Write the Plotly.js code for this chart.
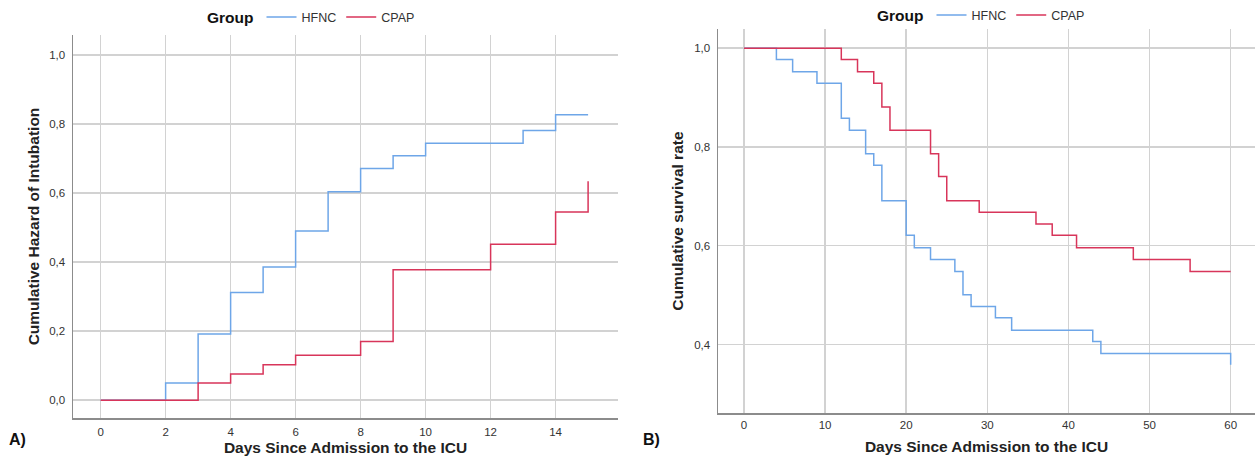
<!DOCTYPE html>
<html>
<head>
<meta charset="utf-8">
<script src="https://cdn.plot.ly/plotly-3.0.1.min.js"></script>
<style>
  html, body { margin: 0; padding: 0; background: #ffffff; }
  #chart { width: 1255px; height: 456px; }
</style>
</head>
<body>
<div id="chart"></div>
<script>
// ---- Panel A: cumulative hazard of intubation (days 0-15) ----
const hazHfncDays = [0, 2, 3, 4, 5, 6, 7, 8, 9, 10, 13, 14, 15];
const hazHfncVals = [0, 0.05, 0.192, 0.312, 0.386, 0.49, 0.604, 0.671, 0.708, 0.744, 0.781, 0.827, 0.827];
const hazCpapDays = [0, 3, 4, 5, 6, 8, 9, 12, 14, 15];
const hazCpapVals = [0, 0.05, 0.076, 0.103, 0.13, 0.17, 0.378, 0.452, 0.545, 0.634];

// ---- Panel B: cumulative survival (days 0-60) ----
const survHfncDays = [0, 4, 6, 9, 12, 13, 15, 16, 17, 20, 21, 23, 26, 27, 28, 31, 33, 43, 44, 60];
const survHfncVals = [1, 0.977, 0.952, 0.929, 0.858, 0.834, 0.786, 0.763, 0.691, 0.621, 0.596, 0.572, 0.548, 0.501, 0.477, 0.454, 0.429, 0.406, 0.382, 0.359];
const survCpapDays = [0, 12, 14, 16, 17, 18, 23, 24, 25, 29, 36, 38, 41, 48, 55, 60];
const survCpapVals = [1, 0.977, 0.952, 0.929, 0.881, 0.834, 0.786, 0.740, 0.691, 0.668, 0.644, 0.621, 0.596, 0.572, 0.548, 0.548];

// ---- tick labels ----
const hazXTicks = [0, 2, 4, 6, 8, 10, 12, 14];
const hazYTicks = [0, 0.2, 0.4, 0.6, 0.8, 1.0];
const hazYTickText = ['0,0', '0,2', '0,4', '0,6', '0,8', '1,0'];
const survXTicks = [0, 10, 20, 30, 40, 50, 60];
const survYTicks = [0.4, 0.6, 0.8, 1.0];
const survYTickText = ['0,4', '0,6', '0,8', '1,0'];

const groupNames = ['HFNC', 'CPAP'];

// ---- styling ----
const W = 1255, H = 456;
const BLUE = '#6ea6e8';
const RED = '#d8355a';
const GRID = '#d2d2d2';
const AXIS = '#8c8c8c';
const FONT = 'Liberation Sans, Arial, sans-serif';

function px2domX(a, b) { return [a / W, b / W]; }
function px2domY(top, bottom) { return [1 - bottom / H, 1 - top / H]; }

const tickFont = { family: FONT, size: 11.5, color: '#333333' };
const titleFont = { family: FONT, size: 15.5, color: '#222222', weight: 'bold' };

function baseAxis(extra) {
  return Object.assign({
    showgrid: true, gridcolor: GRID, gridwidth: 1.5,
    zeroline: false, showline: true, linecolor: AXIS, linewidth: 1.5,
    mirror: false, ticks: '', tickfont: tickFont, fixedrange: true,
    automargin: false
  }, extra);
}

const traces = [
  { x: hazHfncDays, y: hazHfncVals, name: groupNames[0], type: 'scatter', mode: 'lines',
    line: { shape: 'hv', color: BLUE, width: 1.5 }, xaxis: 'x', yaxis: 'y', legend: 'legend' },
  { x: hazCpapDays, y: hazCpapVals, name: groupNames[1], type: 'scatter', mode: 'lines',
    line: { shape: 'hv', color: RED, width: 1.5 }, xaxis: 'x', yaxis: 'y', legend: 'legend' },
  { x: survHfncDays, y: survHfncVals, name: groupNames[0], type: 'scatter', mode: 'lines',
    line: { shape: 'hv', color: BLUE, width: 1.5 }, xaxis: 'x2', yaxis: 'y2', legend: 'legend2' },
  { x: survCpapDays, y: survCpapVals, name: groupNames[1], type: 'scatter', mode: 'lines',
    line: { shape: 'hv', color: RED, width: 1.5 }, xaxis: 'x2', yaxis: 'y2', legend: 'legend2' }
];

const legendBase = {
  orientation: 'h', xref: 'paper', yref: 'paper', xanchor: 'left', yanchor: 'middle',
  bgcolor: 'rgba(0,0,0,0)', borderwidth: 0, itemwidth: 30,
  font: { family: FONT, size: 12.5, color: '#333333' },
  title: { text: 'Group', side: 'left', font: { family: FONT, size: 15.5, color: '#111111', weight: 'bold' } },
  itemclick: false, itemdoubleclick: false
};

const layout = {
  width: W, height: H,
  margin: { l: 0, r: 0, t: 0, b: 0, pad: 0 },
  paper_bgcolor: '#ffffff', plot_bgcolor: '#ffffff',
  showlegend: true,
  font: { family: FONT },
  xaxis: baseAxis({
    domain: px2domX(73, 618), range: [-0.85, 15.92], anchor: 'y',
    tickvals: hazXTicks, ticktext: hazXTicks.map(String), ticklabelstandoff: 3,
    title: { text: 'Days Since Admission to the ICU', font: titleFont, standoff: 5 }
  }),
  yaxis: baseAxis({
    domain: px2domY(33, 418), range: [-0.052, 1.058], anchor: 'x',
    tickvals: hazYTicks, ticktext: hazYTickText, ticklabelstandoff: 4,
    title: { text: 'Cumulative Hazard of Intubation', font: titleFont, standoff: 6 }
  }),
  xaxis2: baseAxis({
    domain: px2domX(718, 1255), range: [-3.2, 63.0], anchor: 'y2',
    tickvals: survXTicks, ticktext: survXTicks.map(String), ticklabelstandoff: 1,
    title: { text: 'Days Since Admission to the ICU', font: titleFont, standoff: 10 }
  }),
  yaxis2: baseAxis({
    domain: px2domY(27, 413), range: [0.261, 1.039], anchor: 'x2',
    tickvals: survYTicks, ticktext: survYTickText, ticklabelstandoff: 4,
    title: { text: 'Cumulative survival rate', font: titleFont, standoff: 7 }
  }),
  legend: Object.assign({}, legendBase, { x: 205 / W, y: 1 - 16 / H }),
  legend2: Object.assign({}, legendBase, { x: 875 / W, y: 1 - 14 / H }),
  annotations: [
    { text: 'A)', xref: 'paper', yref: 'paper', x: 7 / W, y: 1 - 439 / H, xanchor: 'left', yanchor: 'middle',
      showarrow: false, font: { family: FONT, size: 16, color: '#111111', weight: 'bold' } },
    { text: 'B)', xref: 'paper', yref: 'paper', x: 641 / W, y: 1 - 439 / H, xanchor: 'left', yanchor: 'middle',
      showarrow: false, font: { family: FONT, size: 16, color: '#111111', weight: 'bold' } }
  ]
};

Plotly.newPlot('chart', traces, layout, { staticPlot: true, displayModeBar: false });
</script>
</body>
</html>
